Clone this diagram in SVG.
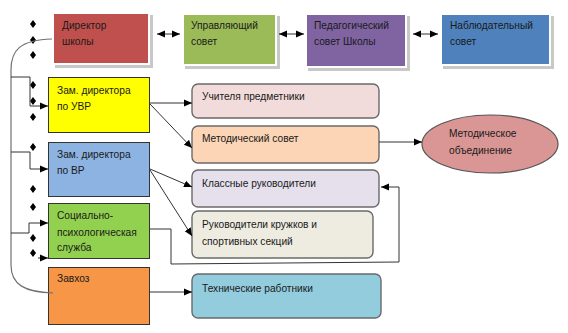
<svg xmlns="http://www.w3.org/2000/svg" xmlns:xlink="http://www.w3.org/1999/xlink" width="568" height="333" viewBox="0 0 568 333">
<style>
text{font-family:"Liberation Sans",Arial,sans-serif;font-size:10.2px;fill:#1a1a1a}
.top{stroke:#fff;stroke-width:2}
.shadow{fill:#c8c8c8}
.lb{stroke:#333;stroke-width:1}
.rb{stroke:#6a6a6a;stroke-width:1.4}
.c{fill:none;stroke:#333;stroke-width:1}
.trunk{fill:none;stroke:#707070;stroke-width:1.2}
</style>
<defs>
<marker id="ah" viewBox="0 0 8 8" refX="8" refY="4" markerWidth="8" markerHeight="8" markerUnits="userSpaceOnUse" orient="auto">
<path d="M0,0.5 L8,4 L0,7.5 Z" fill="#000"/>
</marker>
<marker id="as" viewBox="0 0 8 8" refX="0" refY="4" markerWidth="8" markerHeight="8" markerUnits="userSpaceOnUse" orient="auto">
<path d="M8,0.5 L0,4 L8,7.5 Z" fill="#000"/>
</marker>
<path id="dm" d="M0,-4 L3,0 L0,4 L-3,0 Z" fill="#000"/>
</defs>

<g id="bullets">
<use xlink:href="#dm" x="33" y="24"/><use xlink:href="#dm" x="33" y="40"/><use xlink:href="#dm" x="33" y="55"/>
<use xlink:href="#dm" x="33" y="85"/><use xlink:href="#dm" x="33" y="101"/><use xlink:href="#dm" x="33" y="117"/>
<use xlink:href="#dm" x="33" y="147"/><use xlink:href="#dm" x="33" y="189"/>
<use xlink:href="#dm" x="33" y="207"/><use xlink:href="#dm" x="33" y="238"/><use xlink:href="#dm" x="33" y="253"/>
</g>

<g id="director">
<rect class="shadow" x="55" y="15" width="98" height="53"/>
<rect class="top" x="53" y="13" width="96" height="51" fill="#C0504D"/>
<text x="62" y="29">Директор</text><text x="62" y="45">школы</text>
</g>
<g id="upr">
<rect class="shadow" x="185" y="16" width="95" height="53"/>
<rect class="top" x="183" y="14" width="93" height="51" fill="#9BBB59"/>
<text x="191" y="29">Управляющий</text><text x="191" y="45">совет</text>
</g>
<g id="ped">
<rect class="shadow" x="308" y="16" width="102" height="55"/>
<rect class="top" x="306" y="14" width="100" height="53" fill="#8064A2"/>
<text x="314" y="29">Педагогический</text><text x="314" y="45">совет Школы</text>
</g>
<g id="nabl">
<rect class="shadow" x="443" y="16" width="111" height="53"/>
<rect class="top" x="441" y="14" width="109" height="51" fill="#4F81BD"/>
<text x="450" y="29">Наблюдательный</text><text x="450" y="45">совет</text>
</g>

<g id="uvr">
<rect class="lb" x="48.5" y="77.5" width="101" height="55" fill="#FFFF00"/>
<text x="57" y="94">Зам. директора</text><text x="57" y="110">по УВР</text>
</g>
<g id="vr">
<rect class="lb" x="48.5" y="142.5" width="101" height="54" fill="#8DB3E2"/>
<text x="57" y="158">Зам. директора</text><text x="57" y="174">по ВР</text>
</g>
<g id="soc">
<rect class="lb" x="48.5" y="203.5" width="101" height="55" fill="#92D050"/>
<text x="57" y="219">Социально-</text><text x="57" y="236">психологическая</text><text x="57" y="251">служба</text>
</g>
<g id="zavhoz">
<rect class="lb" x="48.5" y="267.5" width="101" height="57" fill="#F79646"/>
<text x="57" y="282">Завхоз</text>
</g>

<g id="uchitelya">
<rect class="rb" x="192" y="84" width="187" height="34" rx="6" fill="#F2DCDB"/>
<text x="202" y="100">Учителя предметники</text>
</g>
<g id="metsovet">
<rect class="rb" x="192" y="126" width="187" height="37" rx="6" fill="#FBD5B5"/>
<text x="202" y="142">Методический совет</text>
</g>
<g id="klassnye">
<rect class="rb" x="192" y="170" width="187" height="37" rx="6" fill="#E5E0EC"/>
<text x="202" y="187">Классные руководители</text>
</g>
<g id="kruzhki">
<rect class="rb" x="192" y="211" width="181" height="47" rx="6" fill="#EEECE1"/>
<text x="202" y="228">Руководители кружков и</text><text x="202" y="245">спортивных секций</text>
</g>
<g id="tech">
<rect class="rb" x="192" y="274" width="189" height="44" rx="6" fill="#93CDDD"/>
<text x="202" y="292">Технические работники</text>
</g>
<g id="metob">
<ellipse cx="490" cy="144" rx="68" ry="29" fill="#D99694" stroke="#555" stroke-width="1.2"/>
<text x="449" y="137">Методическое</text><text x="449" y="154">объединение</text>
</g>

<g id="connectors">
<line class="c" x1="157" y1="34" x2="180" y2="34" marker-start="url(#as)" marker-end="url(#ah)"/>
<line class="c" x1="279" y1="34" x2="304" y2="34" marker-start="url(#as)" marker-end="url(#ah)"/>
<line class="c" x1="413" y1="34" x2="438" y2="34" marker-start="url(#as)" marker-end="url(#ah)"/>
<path class="trunk" d="M52,39 C20,40 11,50 11,70 L11,265 C11,285 25,292 53,293"/>
<path class="c" d="M11,77 L30,77 L30,106 L48,106" marker-end="url(#ah)"/>
<path class="c" d="M11,152 L30,152 L30,169 L48,169" marker-end="url(#ah)"/>
<path class="c" d="M11,233 L29,233 L29,223 L48,223" marker-end="url(#ah)"/>
<path class="c" d="M38,258 L48,258" marker-end="url(#ah)"/>
<path class="c" d="M150,103 L192,103" marker-end="url(#ah)"/>
<path class="c" d="M150,104 L192,148" marker-end="url(#ah)"/>
<path class="c" d="M150,169 L192,187" marker-end="url(#ah)"/>
<path class="c" d="M150,170 L192,236" marker-end="url(#ah)"/>
<path class="c" d="M150,229 L171,229 L171,264 L399,262 L399,187 L381,187" marker-end="url(#ah)"/>
<path class="c" d="M150,292 L192,292" marker-end="url(#ah)"/>
<path class="c" d="M379,142 L422,142" marker-end="url(#ah)"/>
</g>
</svg>
